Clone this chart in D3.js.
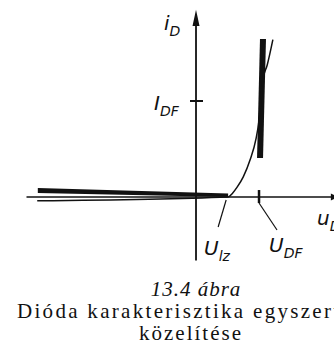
<!DOCTYPE html>
<html lang="hu">
<head>
    <meta charset="UTF-8">
    <script src="https://cdn.jsdelivr.net/npm/d3@7"></script>
    <title>Dióda karakterisztika</title>
    <style>
        body { margin: 0; background: #fff; }
        .lbl { font-family: "DejaVu Sans", sans-serif; font-style: italic; fill: #111; }
        .cap { font-family: "Liberation Serif", serif; fill: #111; }
    </style>
</head>
<body>
</body>
<script>
    // valódi jelleggörbe (u_D, i_D)
    let curveU = [-2.52, 0.51, 0.58, 0.65, 0.75, 0.86, 0.95, 1.00, 1.03, 1.06, 1.13, 1.22];
    let curveI = [-0.04, 0, 0.04, 0.10, 0.21, 0.39, 0.60, 0.80, 1.01, 1.22, 1.375, 1.64];

    // egyszerűsített (vastag) közelítés
    let flatU = [-2.51, 0.51];
    let flatTop = [0.094, 0.036];
    let flatBottom = [0.042, 0];
    let steepU = [1.016, 1.063];
    let steepI = [0.406, 1.646];

    // jelölések
    let U_Iz = 0.51;
    let U_DF = 1.0;
    let I_DF = 1.0;

    let width = 334, height = 361;

    let svg = d3.select("body")
        .append("svg")
        .attr("width", width)
        .attr("height", height)

    // skálák
    let x = d3.scaleLinear()
        .domain([-2.69, 2.22])
        .range([26.5, 335.9])
    let y = d3.scaleLinear()
        .domain([-0.66, 1.95])
        .range([260.4, 9.8])

    // tengelyek
    svg.append("line")
        .attr("x1", x(-2.69)).attr("x2", x(2.22))
        .attr("y1", y(0)).attr("y2", y(0))
        .attr("stroke", "#111").attr("stroke-width", 1.6)
    svg.append("line")
        .attr("x1", x(0)).attr("x2", x(0))
        .attr("y1", y(-0.66)).attr("y2", y(1.8))
        .attr("stroke", "#111").attr("stroke-width", 1.8)

    // nyilak
    svg.append("path")
        .attr("d", `M${x(0)},${y(1.95)} L${x(0) - 3.5},${y(1.78)} L${x(0) + 3.5},${y(1.78)} Z`)
        .attr("fill", "#111")
    svg.append("path")
        .attr("d", `M${x(2.26)},${y(0)} L${x(2.14)},${y(0) - 3.5} L${x(2.14)},${y(0) + 3.5} Z`)
        .attr("fill", "#111")

    // vastag közelítés
    let flat = flatU.map((u, i) => ({u: u, t: flatTop[i], b: flatBottom[i]}))
    svg.append("path")
        .datum(flat)
        .attr("d", d3.area().x(d => x(d.u)).y0(d => y(d.b)).y1(d => y(d.t)))
        .attr("fill", "#111")

    svg.append("path")
        .datum(steepU.map((u, i) => [u, steepI[i]]))
        .attr("d", d3.line().x(d => x(d[0])).y(d => y(d[1])))
        .attr("stroke", "#111")
        .attr("stroke-width", 6)
        .attr("fill", "none")

    // vékony jelleggörbe
    svg.append("path")
        .datum(curveU.map((u, i) => [u, curveI[i]]))
        .attr("d", d3.line().x(d => x(d[0])).y(d => y(d[1])).curve(d3.curveMonotoneX))
        .attr("stroke", "#111")
        .attr("stroke-width", 1.5)
        .attr("fill", "none")

    // osztások
    svg.append("line")
        .attr("x1", x(0) - 6).attr("x2", x(0) + 7)
        .attr("y1", y(I_DF)).attr("y2", y(I_DF))
        .attr("stroke", "#111").attr("stroke-width", 2)
    svg.append("line")
        .attr("x1", x(U_DF)).attr("x2", x(U_DF))
        .attr("y1", y(0) - 7).attr("y2", y(0) + 6)
        .attr("stroke", "#111").attr("stroke-width", 2.5)

    // mutatóvonalak
    svg.append("line")
        .attr("x1", x(U_Iz) - 2).attr("y1", y(0) + 3)
        .attr("x2", x(U_Iz) - 10).attr("y2", y(0) + 30)
        .attr("stroke", "#111").attr("stroke-width", 1.2)
    svg.append("polyline")
        .attr("points", `${x(U_DF)},${y(0) + 6} ${x(U_DF) + 18},${y(0) + 33}`)
        .attr("stroke", "#111").attr("stroke-width", 1.2).attr("fill", "none")

    // feliratok
    let labels = [
        {main: "i", sub: "D", x: 164, y: 30},
        {main: "I", sub: "DF", x: 154, y: 110},
        {main: "U", sub: "lz", x: 204, y: 255},
        {main: "U", sub: "DF", x: 269, y: 252},
        {main: "u", sub: "D", x: 317, y: 225}
    ]
    labels.forEach(l => {
        let t = svg.append("text")
            .attr("class", "lbl")
            .attr("x", l.x).attr("y", l.y)
            .style("font-size", "20px")
        t.append("tspan").text(l.main)
        t.append("tspan")
            .attr("dy", 6)
            .style("font-size", "14px")
            .text(l.sub)
    })

    // ábraszöveg
    svg.append("text")
        .attr("class", "cap")
        .attr("x", 196).attr("y", 296)
        .attr("text-anchor", "middle")
        .style("font-size", "21px")
        .style("font-style", "italic")
        .style("letter-spacing", "1px")
        .text("13.4 ábra")
    svg.append("text")
        .attr("class", "cap")
        .attr("x", 17).attr("y", 318)
        .style("font-size", "21px")
        .style("letter-spacing", "2.3px")
        .text("Dióda karakterisztika egyszerűsített")
    svg.append("text")
        .attr("class", "cap")
        .attr("x", 191).attr("y", 340)
        .attr("text-anchor", "middle")
        .style("font-size", "21px")
        .style("letter-spacing", "2px")
        .text("közelítése")
</script>
</html>
